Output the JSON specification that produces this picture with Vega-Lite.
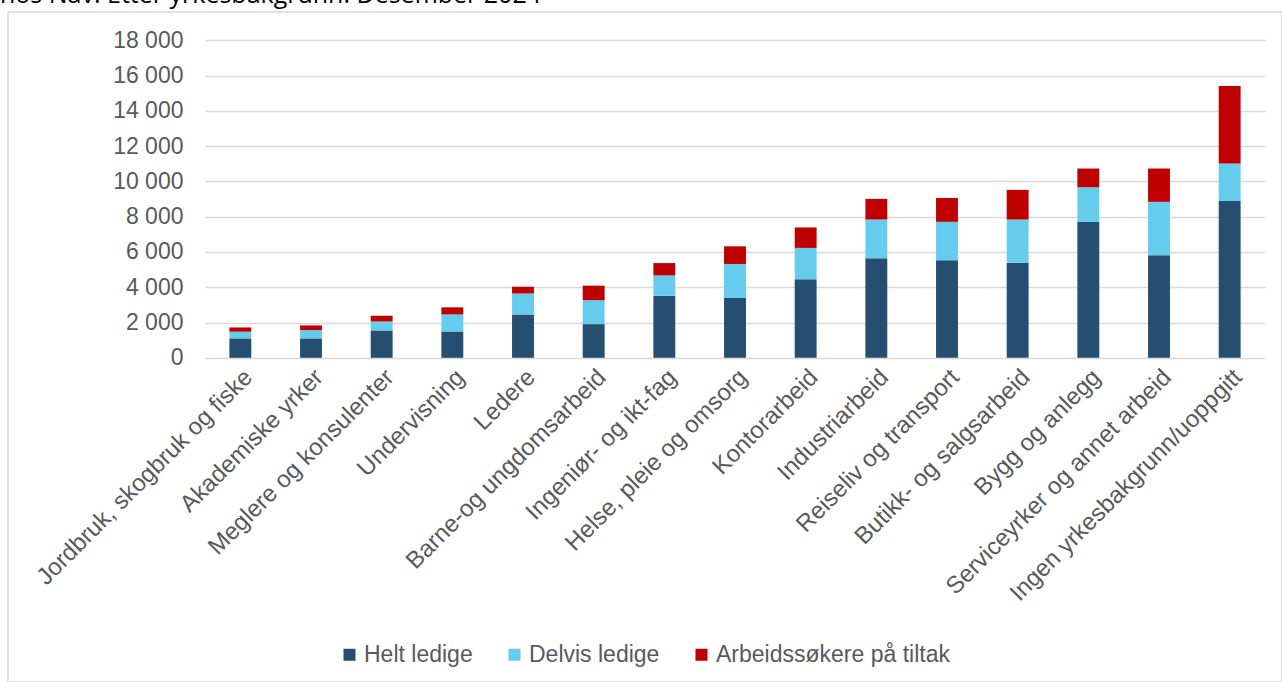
{
  "$schema": "https://vega.github.io/schema/vega-lite/v6.json",
  "width": 1274,
  "height": 670,
  "autosize": {"type": "none"},
  "padding": {"left": 8, "top": 12, "right": 0, "bottom": 0},
  "background": "white",
  "title": {
    "text": "hos Nav. Etter yrkesbakgrunn. Desember 2024",
    "anchor": "start",
    "frame": "group",
    "offset": 4,
    "dx": -8,
    "font": "Open Sans",
    "fontSize": 25,
    "fontWeight": "normal",
    "color": "#000000"
  },
  "config": {
    "view": {"stroke": "#D9D9D9", "strokeWidth": 1.5},
    "locale": {"number": {"decimal": ",", "thousands": " ", "grouping": [3], "currency": ["", " kr"]}},
    "axis": {"labelFont": "Liberation Sans", "labelColor": "#595959"},
    "legend": {"labelFont": "Liberation Sans", "labelColor": "#595959"}
  },
  "data": {
    "values": [
      {"yrke": "Jordbruk, skogbruk og fiske", "gruppe": "Helt ledige", "nr": 1, "antall": 1100},
      {"yrke": "Jordbruk, skogbruk og fiske", "gruppe": "Delvis ledige", "nr": 2, "antall": 380},
      {"yrke": "Jordbruk, skogbruk og fiske", "gruppe": "Arbeidssøkere på tiltak", "nr": 3, "antall": 240},
      {"yrke": "Akademiske yrker", "gruppe": "Helt ledige", "nr": 1, "antall": 1100},
      {"yrke": "Akademiske yrker", "gruppe": "Delvis ledige", "nr": 2, "antall": 470},
      {"yrke": "Akademiske yrker", "gruppe": "Arbeidssøkere på tiltak", "nr": 3, "antall": 265},
      {"yrke": "Meglere og konsulenter", "gruppe": "Helt ledige", "nr": 1, "antall": 1550},
      {"yrke": "Meglere og konsulenter", "gruppe": "Delvis ledige", "nr": 2, "antall": 510},
      {"yrke": "Meglere og konsulenter", "gruppe": "Arbeidssøkere på tiltak", "nr": 3, "antall": 325},
      {"yrke": "Undervisning", "gruppe": "Helt ledige", "nr": 1, "antall": 1490},
      {"yrke": "Undervisning", "gruppe": "Delvis ledige", "nr": 2, "antall": 970},
      {"yrke": "Undervisning", "gruppe": "Arbeidssøkere på tiltak", "nr": 3, "antall": 400},
      {"yrke": "Ledere", "gruppe": "Helt ledige", "nr": 1, "antall": 2460},
      {"yrke": "Ledere", "gruppe": "Delvis ledige", "nr": 2, "antall": 1190},
      {"yrke": "Ledere", "gruppe": "Arbeidssøkere på tiltak", "nr": 3, "antall": 380},
      {"yrke": "Barne-og ungdomsarbeid", "gruppe": "Helt ledige", "nr": 1, "antall": 1910},
      {"yrke": "Barne-og ungdomsarbeid", "gruppe": "Delvis ledige", "nr": 2, "antall": 1360},
      {"yrke": "Barne-og ungdomsarbeid", "gruppe": "Arbeidssøkere på tiltak", "nr": 3, "antall": 820},
      {"yrke": "Ingeniør- og ikt-fag", "gruppe": "Helt ledige", "nr": 1, "antall": 3520},
      {"yrke": "Ingeniør- og ikt-fag", "gruppe": "Delvis ledige", "nr": 2, "antall": 1150},
      {"yrke": "Ingeniør- og ikt-fag", "gruppe": "Arbeidssøkere på tiltak", "nr": 3, "antall": 700},
      {"yrke": "Helse, pleie og omsorg", "gruppe": "Helt ledige", "nr": 1, "antall": 3390},
      {"yrke": "Helse, pleie og omsorg", "gruppe": "Delvis ledige", "nr": 2, "antall": 1930},
      {"yrke": "Helse, pleie og omsorg", "gruppe": "Arbeidssøkere på tiltak", "nr": 3, "antall": 1000},
      {"yrke": "Kontorarbeid", "gruppe": "Helt ledige", "nr": 1, "antall": 4450},
      {"yrke": "Kontorarbeid", "gruppe": "Delvis ledige", "nr": 2, "antall": 1780},
      {"yrke": "Kontorarbeid", "gruppe": "Arbeidssøkere på tiltak", "nr": 3, "antall": 1160},
      {"yrke": "Industriarbeid", "gruppe": "Helt ledige", "nr": 1, "antall": 5640},
      {"yrke": "Industriarbeid", "gruppe": "Delvis ledige", "nr": 2, "antall": 2200},
      {"yrke": "Industriarbeid", "gruppe": "Arbeidssøkere på tiltak", "nr": 3, "antall": 1170},
      {"yrke": "Reiseliv og transport", "gruppe": "Helt ledige", "nr": 1, "antall": 5530},
      {"yrke": "Reiseliv og transport", "gruppe": "Delvis ledige", "nr": 2, "antall": 2180},
      {"yrke": "Reiseliv og transport", "gruppe": "Arbeidssøkere på tiltak", "nr": 3, "antall": 1350},
      {"yrke": "Butikk- og salgsarbeid", "gruppe": "Helt ledige", "nr": 1, "antall": 5390},
      {"yrke": "Butikk- og salgsarbeid", "gruppe": "Delvis ledige", "nr": 2, "antall": 2450},
      {"yrke": "Butikk- og salgsarbeid", "gruppe": "Arbeidssøkere på tiltak", "nr": 3, "antall": 1680},
      {"yrke": "Bygg og anlegg", "gruppe": "Helt ledige", "nr": 1, "antall": 7700},
      {"yrke": "Bygg og anlegg", "gruppe": "Delvis ledige", "nr": 2, "antall": 1970},
      {"yrke": "Bygg og anlegg", "gruppe": "Arbeidssøkere på tiltak", "nr": 3, "antall": 1060},
      {"yrke": "Serviceyrker og annet arbeid", "gruppe": "Helt ledige", "nr": 1, "antall": 5820},
      {"yrke": "Serviceyrker og annet arbeid", "gruppe": "Delvis ledige", "nr": 2, "antall": 3020},
      {"yrke": "Serviceyrker og annet arbeid", "gruppe": "Arbeidssøkere på tiltak", "nr": 3, "antall": 1890},
      {"yrke": "Ingen yrkesbakgrunn/uoppgitt", "gruppe": "Helt ledige", "nr": 1, "antall": 8890},
      {"yrke": "Ingen yrkesbakgrunn/uoppgitt", "gruppe": "Delvis ledige", "nr": 2, "antall": 2130},
      {"yrke": "Ingen yrkesbakgrunn/uoppgitt", "gruppe": "Arbeidssøkere på tiltak", "nr": 3, "antall": 4390}
    ]
  },
  "mark": {"type": "bar"},
  "encoding": {
    "x": {
      "field": "yrke",
      "type": "nominal",
      "sort": null,
      "title": null,
      "scale": {"range": [197, 1257], "paddingInner": 0.69, "paddingOuter": 0.345},
      "axis": {
        "orient": "bottom",
        "offset": -324.2,
        "domain": false,
        "ticks": false,
        "tickSize": 0,
        "labelAngle": -45,
        "labelAlign": "right",
        "labelBaseline": "top",
        "labelPadding": 7,
        "labelFontSize": 24,
        "labelLimit": 500,
        "labelOverlap": false
      }
    },
    "y": {
      "field": "antall",
      "type": "quantitative",
      "stack": "zero",
      "title": null,
      "scale": {"domain": [0, 18000], "range": [345.8, 28.3], "nice": false},
      "axis": {
        "orient": "left",
        "offset": -197,
        "values": [0, 2000, 4000, 6000, 8000, 10000, 12000, 14000, 16000, 18000],
        "format": ",d",
        "domain": false,
        "ticks": false,
        "tickSize": 0,
        "labelPadding": 22,
        "labelFontSize": 23,
        "labelBaseline": "middle",
        "grid": true,
        "gridColor": "#D9D9D9",
        "gridWidth": 1.5
      }
    },
    "color": {
      "field": "gruppe",
      "type": "nominal",
      "scale": {
        "domain": ["Helt ledige", "Delvis ledige", "Arbeidssøkere på tiltak"],
        "range": ["#264E70", "#66CCEE", "#BE0000"]
      },
      "legend": {
        "title": null,
        "orient": "none",
        "direction": "horizontal",
        "legendX": 330,
        "legendY": 631,
        "padding": 0,
        "symbolType": "square",
        "symbolSize": 144,
        "symbolStrokeWidth": 0,
        "symbolOpacity": 1,
        "labelFontSize": 23,
        "labelOffset": 3,
        "labelLimit": 400,
        "columnPadding": 30
      }
    },
    "order": {"field": "nr", "type": "quantitative", "sort": "ascending"}
  }
}
